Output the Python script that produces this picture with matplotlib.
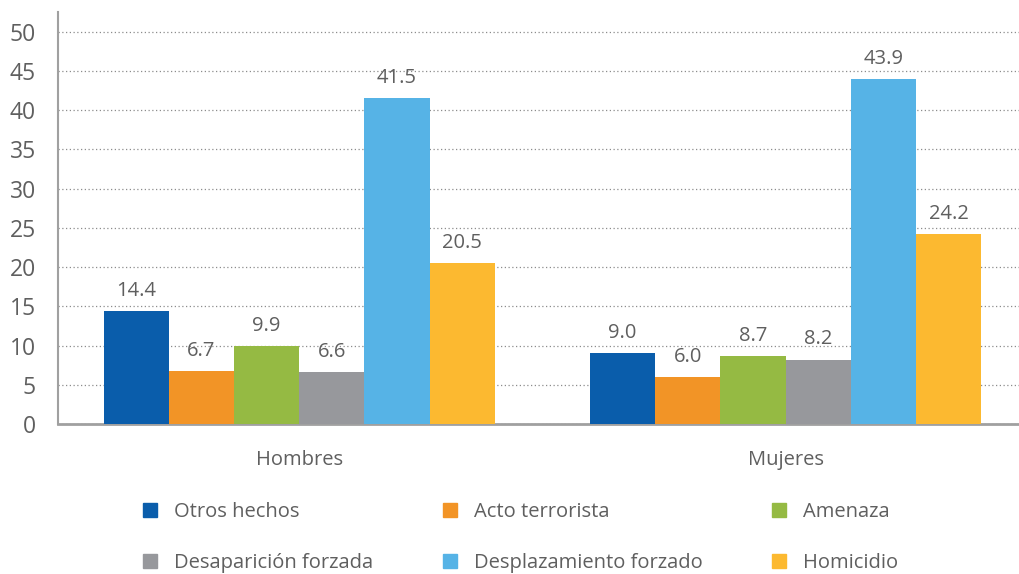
import numpy as np
import matplotlib.pyplot as plt
from matplotlib.patches import Patch

groups = ["Hombres", "Mujeres"]
series = ["Otros hechos", "Acto terrorista", "Amenaza",
          "Desaparición forzada", "Desplazamiento forzado", "Homicidio"]
values = [
    [14.4, 9.0],
    [6.7, 6.0],
    [9.9, 8.7],
    [6.6, 8.2],
    [41.5, 43.9],
    [20.5, 24.2],
]
colors = ["#0a5dab", "#f29426", "#95ba43", "#97989c", "#56b3e6", "#fcb930"]

plt.rcParams["font.family"] = ["Open Sans", "DejaVu Sans"]
text_color = "#5f5f5f"

fig = plt.figure(figsize=(10.19, 5.74), dpi=100)
ax = fig.add_axes([58 / 1019, 1 - 424 / 574, 1 - 58 / 1019, (424 - 12) / 574])

x = np.arange(len(groups))
w = 0.134
for i, (name, vals) in enumerate(zip(series, values)):
    pos = x + (i - 2.5) * w
    ax.bar(pos, vals, w, color=colors[i], label=name, zorder=3)
    for px, v in zip(pos, vals):
        ax.text(px, v + 1.3, f"{v:.1f}", ha="center", va="bottom",
                fontsize=14.5, color=text_color)

ax.set_xlim(-0.496, 1.48)
ax.set_ylim(0, 52.5)
ax.set_yticks(np.arange(0, 51, 5))
ax.set_xticks(x)
ax.set_xticklabels(groups)
ax.tick_params(axis="y", length=0, labelsize=16.5, labelcolor=text_color, pad=16)
ax.tick_params(axis="x", length=0, labelsize=14.5, labelcolor=text_color, pad=18.5)
ax.yaxis.grid(True, linestyle=(0, (1, 2)), color="#8c8c8c", linewidth=0.9, zorder=0)
for s in ["top", "right"]:
    ax.spines[s].set_visible(False)
ax.spines["left"].set_color("#a0a0a0")
ax.spines["left"].set_linewidth(1.5)
ax.spines["bottom"].set_color("#a0a0a0")
ax.spines["bottom"].set_linewidth(2)

# legend filled column-wise, so reorder to read row by row
order = [0, 3, 1, 4, 2, 5]
handles = [Patch(color=colors[i]) for i in order]
labels = [series[i] for i in order]
fig.legend(handles, labels, ncol=3, loc="upper left",
           bbox_to_anchor=(143 / 1019, 1 - 502 / 574),
           borderpad=0, borderaxespad=0,
           frameon=False, fontsize=14.5, labelcolor=text_color,
           handlelength=0.7, handleheight=0.7, handletextpad=0.85,
           labelspacing=1.55, columnspacing=3.45)

fig.savefig("out.png", dpi=100)
